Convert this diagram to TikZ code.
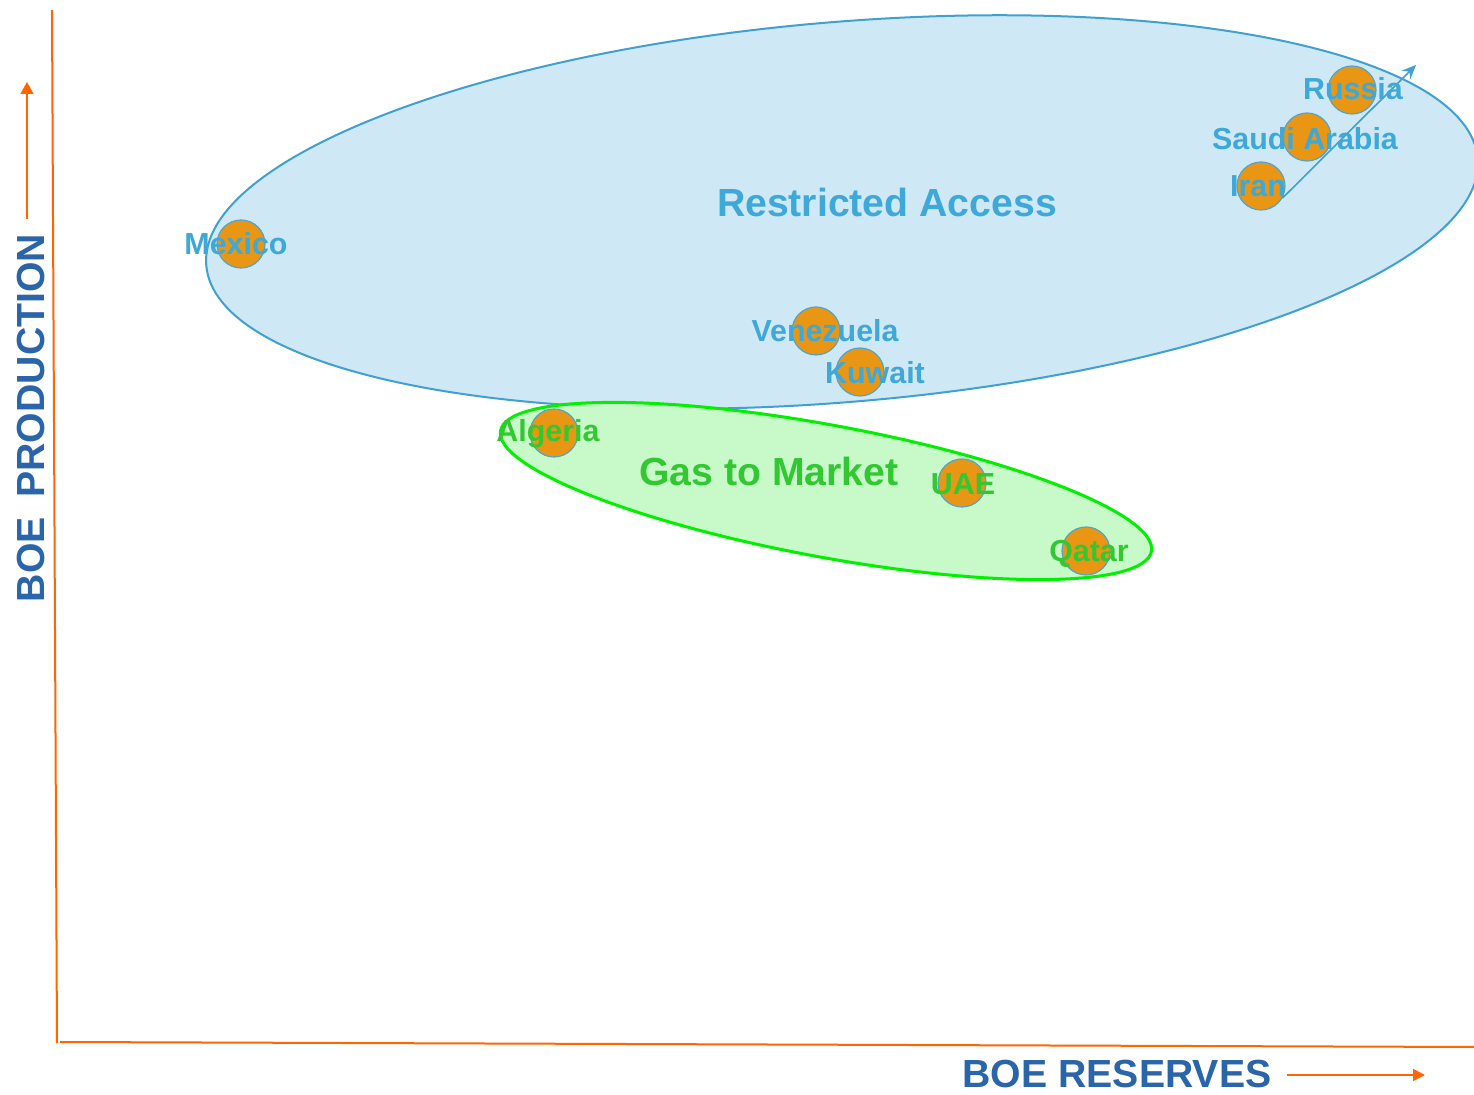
\documentclass[tikz,border=0pt]{standalone}
\usepackage{fontspec}
\setmainfont{Liberation Sans}
\usetikzlibrary{arrows.meta}
\definecolor{axisorange}{RGB}{255,102,0}
\definecolor{boeblue}{RGB}{41,101,168}
\definecolor{ratext}{RGB}{62,168,216}
\definecolor{raline}{RGB}{64,160,210}
\definecolor{rafill}{RGB}{206,232,245}
\definecolor{gtmtext}{RGB}{50,200,50}
\definecolor{gtmline}{RGB}{0,240,0}
\definecolor{gtmfill}{RGB}{200,249,200}
\definecolor{dotfill}{RGB}{232,150,20}
\definecolor{dotline}{RGB}{80,165,205}

\begin{document}
\begin{tikzpicture}[x=0.5pt, y=-0.5pt,
  site/.style={circle, draw=dotline, fill=dotfill, line width=0.6pt, minimum size=24pt, inner sep=0pt},
  ralabel/.style={anchor=base, inner sep=0pt, text=ratext, font=\fontsize{15.2}{18}\selectfont\bfseries},
  gtmlabel/.style={ralabel, text=gtmtext},
  grouptitle/.style={anchor=base, inner sep=0pt, font=\fontsize{19.6}{23}\selectfont\bfseries},
  axistitle/.style={anchor=base, inner sep=0pt, text=boeblue, font=\fontsize{19.6}{23}\selectfont\bfseries}]
\useasboundingbox[fill=white] (0,0) rectangle (1474,1095);
\draw[line width=1pt, draw=raline, fill=rafill, rotate around={4.8:(842,212)}] (842,212) ellipse [x radius=638, y radius=190];
\draw[line width=1.5pt, draw=gtmline, fill=gtmfill, rotate around={-10.5:(826,491)}] (826,491) ellipse [x radius=331, y radius=66];
\coordinate (ytop) at (52,10);
\coordinate (yfoot) at (57,1043);
\coordinate (xfoot) at (60,1042);
\coordinate (xend) at (1474,1047);
\draw[line width=1pt, axisorange] (ytop) -- (yfoot);
\draw[line width=1pt, axisorange] (xfoot) -- (xend);
\node[site] (russia) at (1352,90) {};
\node[site] (saudi) at (1307,137) {};
\node[site] (iran) at (1261,186) {};
\node[site] (mexico) at (241,244) {};
\node[site] (venezuela) at (816,331) {};
\node[site] (kuwait) at (860,372) {};
\node[site] (algeria) at (554,433) {};
\node[site] (uae) at (962,483) {};
\node[site] (qatar) at (1086,551) {};
\coordinate (growthtip) at (1416,65);
\draw[->, >={Stealth[length=7pt,width=6pt]}, line width=0.8pt, color=raline] (iran.-30) -- (growthtip);
\node[ralabel] (russialbl) at (1353,100) {Russia};
\node[ralabel] (saudilbl) at (1305,150) {Saudi Arabia};
\node[ralabel] (iranlbl) at (1258,197) {Iran};
\node[ralabel] (mexicolbl) at (236,255) {Mexico};
\node[ralabel] (venezuelalbl) at (825,342) {Venezuela};
\node[ralabel] (kuwaitlbl) at (875,384) {Kuwait};
\node[gtmlabel] (algerialbl) at (548,442) {Algeria};
\node[gtmlabel] (uaelbl) at (963,495) {UAE};
\node[gtmlabel] (qatarlbl) at (1089,562) {Qatar};
\node[grouptitle, text=ratext] (restricted) at (887,217) {Restricted Access};
\node[grouptitle, text=gtmtext] (gastomarket) at (769,486) {Gas to Market};
\node[axistitle, rotate=90] (prodlbl) at (45,418) {BOE\hspace{0.5em}PRODUCTION};
\node[axistitle] (reslbl) at (1117,1088) {BOE RESERVES};
\coordinate (prodfoot) at (27,219);
\coordinate (prodtip) at (27,82);
\coordinate (resfoot) at (1287,1075);
\coordinate (restip) at (1425,1075);
\draw[->, >={Triangle[length=6pt,width=6.5pt]}, line width=0.8pt, color=axisorange] (prodfoot) -- (prodtip);
\draw[->, >={Triangle[length=6pt,width=6pt]}, line width=0.8pt, color=axisorange] (resfoot) -- (restip);
\end{tikzpicture}
\end{document}
